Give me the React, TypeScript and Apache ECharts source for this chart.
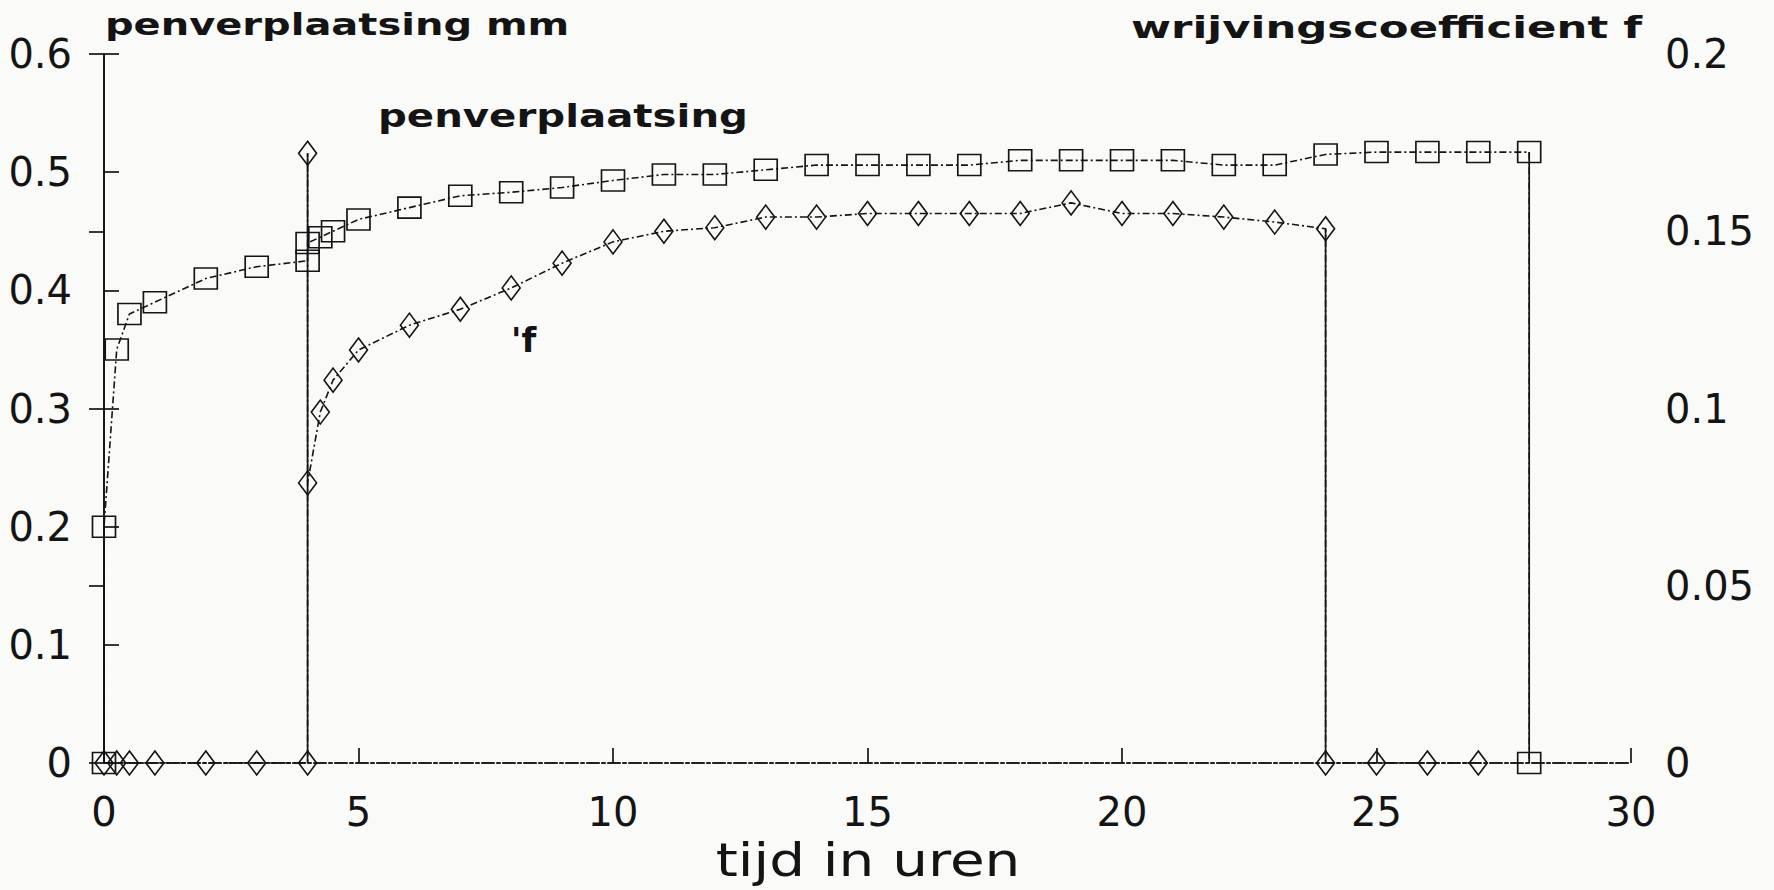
import React, { useEffect, useRef } from "react";
import * as echarts from "echarts";

// penverplaatsing (mm), left axis, square markers
const penTime = [0, 0, 0.25, 0.5, 1, 2, 3, 4, 4, 4.25, 4.5, 5, 6, 7, 8, 9, 10, 11, 12, 13, 14, 15, 16, 17, 18, 19, 20, 21, 22, 23, 24, 25, 26, 27, 28, 28];
const penValue = [0, 0.2, 0.35, 0.38, 0.39, 0.41, 0.42, 0.425, 0.44, 0.445, 0.45, 0.46, 0.47, 0.48, 0.483, 0.487, 0.493, 0.498, 0.498, 0.502, 0.506, 0.506, 0.506, 0.506, 0.51, 0.51, 0.51, 0.51, 0.506, 0.506, 0.515, 0.517, 0.517, 0.517, 0.517, 0];

// wrijvingscoefficient f, right axis, diamond markers
const fTime = [0, 0.25, 0.5, 1, 2, 3, 4, 4, 4, 4.25, 4.5, 5, 6, 7, 8, 9, 10, 11, 12, 13, 14, 15, 16, 17, 18, 19, 20, 21, 22, 23, 24, 24, 25, 26, 27];
const fValue = [0, 0, 0, 0, 0, 0, 0, 0.172, 0.079, 0.099, 0.108, 0.1165, 0.1235, 0.128, 0.134, 0.141, 0.147, 0.15, 0.151, 0.154, 0.154, 0.155, 0.155, 0.155, 0.155, 0.158, 0.155, 0.155, 0.154, 0.1526, 0.1507, 0, 0, 0, 0];

// index pairs of the solid vertical segments in each series
const penDrops = [[0, 1], [34, 35]];
const fDrops = [[6, 7], [30, 31]];

const xTicks = { min: 0, max: 30, interval: 5 };
const leftTicks = { min: 0, max: 0.6, interval: 0.1 };
const rightTicks = { min: 0, max: 0.2, interval: 0.05 };

const INK = "#141414";
const FONT = "DejaVu Sans";

export default function App() {
  const ref = useRef<HTMLDivElement>(null);
  useEffect(() => {
    document.body.style.margin = "0";
    if (!ref.current) return;
    const chart = echarts.init(ref.current, null, { renderer: "svg" });
    const penData = penTime.map((t, i) => [t, penValue[i]]);
    const fData = fTime.map((t, i) => [t, fValue[i]]);
    const dropSeries = (pairs: number[][], data: number[][], yIndex: number) =>
      pairs.map((p) => ({
        type: "line",
        xAxisIndex: 0,
        yAxisIndex: yIndex,
        data: [data[p[0]], data[p[1]]],
        symbol: "none",
        lineStyle: { color: INK, width: 1.7, type: "solid" },
        silent: true,
      }));
    const axisLabel = { color: INK, fontSize: 40, fontFamily: FONT };
    chart.setOption({
      animation: false,
      backgroundColor: "#fafaf8",
      grid: { left: 104, right: 143, top: 54, bottom: 127, show: false },
      xAxis: [
        {
          type: "value",
          position: "bottom",
          ...xTicks,
          axisLine: { show: true, lineStyle: { color: INK, width: 1.7, type: [12, 3, 3, 3] } },
          axisTick: { show: true, inside: true, length: 15, lineStyle: { color: INK, width: 1.7, type: "solid" } },
          axisLabel: { ...axisLabel, margin: 29 },
          splitLine: { show: false },
        },
        {
          type: "value",
          position: "top",
          ...xTicks,
          axisLine: { show: true, lineStyle: { color: INK, width: 1.7, type: [12, 3, 3, 3] } },
          axisTick: { show: false },
          axisLabel: { show: false },
          splitLine: { show: false },
        },
      ],
      yAxis: [
        {
          type: "value",
          position: "left",
          ...leftTicks,
          axisLine: { show: true, lineStyle: { color: INK, width: 1.7 } },
          axisTick: { show: true, inside: true, length: 15, lineStyle: { color: INK, width: 1.7 } },
          axisLabel: { ...axisLabel, margin: 32 },
          splitLine: { show: false },
        },
        {
          type: "value",
          position: "right",
          ...rightTicks,
          axisLine: { show: true, lineStyle: { color: INK, width: 1.7 } },
          axisTick: { show: true, inside: true, length: 15, lineStyle: { color: INK, width: 1.7 } },
          axisLabel: { ...axisLabel, margin: 34 },
          splitLine: { show: false },
        },
      ],
      series: [
        {
          name: "penverplaatsing",
          type: "line",
          xAxisIndex: 0,
          yAxisIndex: 0,
          data: penData,
          symbol: "rect",
          symbolSize: [23, 21],
          lineStyle: { color: INK, width: 1.6, type: [7, 3, 2, 3] },
          itemStyle: { color: "rgba(0,0,0,0)", borderColor: INK, borderWidth: 1.6 },
          z: 3,
        },
        {
          name: "f",
          type: "line",
          xAxisIndex: 0,
          yAxisIndex: 1,
          data: fData,
          symbol: "diamond",
          symbolSize: [18, 24],
          lineStyle: { color: INK, width: 1.6, type: [7, 3, 2, 3] },
          itemStyle: { color: "rgba(0,0,0,0)", borderColor: INK, borderWidth: 1.6 },
          z: 3,
        },
        ...dropSeries(penDrops, penData, 0),
        ...dropSeries(fDrops, fData, 1),
      ],
      graphic: [
        {
          type: "text",
          x: 105,
          y: 24,
          scaleX: 1.29,
          style: { text: "penverplaatsing mm", fill: INK, font: `bold 31px '${FONT}'`, align: "left", verticalAlign: "middle" },
        },
        {
          type: "text",
          x: 1131,
          y: 27,
          scaleX: 1.4,
          style: { text: "wrijvingscoefficient f", fill: INK, font: `bold 31px '${FONT}'`, align: "left", verticalAlign: "middle" },
        },
        {
          type: "text",
          x: 378,
          y: 116,
          scaleX: 1.26,
          style: { text: "penverplaatsing", fill: INK, font: `bold 32px '${FONT}'`, align: "left", verticalAlign: "middle" },
        },
        {
          type: "text",
          x: 511,
          y: 340,
          style: { text: "'f", fill: INK, font: `bold 34px '${FONT}'`, align: "left", verticalAlign: "middle" },
        },
        {
          type: "text",
          x: 868,
          y: 860,
          scaleX: 1.2,
          style: { text: "tijd in uren", fill: INK, font: `47px '${FONT}'`, align: "center", verticalAlign: "middle" },
        },
      ],
    });
    return () => chart.dispose();
  }, []);
  return <div ref={ref} style={{ width: 1774, height: 890 }} />;
}
